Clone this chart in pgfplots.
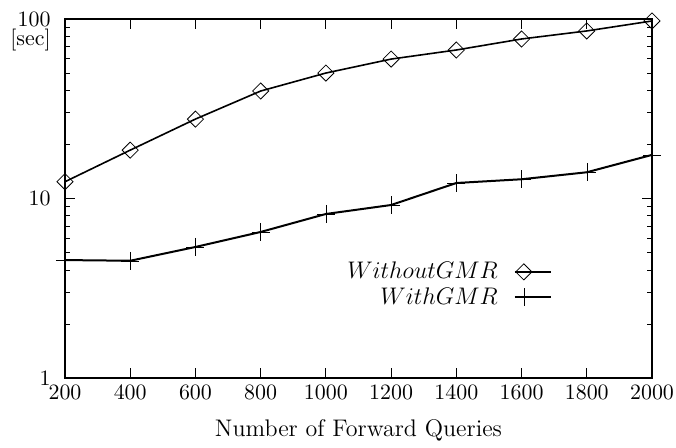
\documentclass[border=0pt]{standalone}
\usepackage{pgfplots}
\pgfplotsset{compat=1.18}
\begin{document}
\begin{tikzpicture}
\begin{axis}[
  scale only axis,
  clip mode=individual,
  width=293.5pt, height=179.5pt,
  ymode=log,
  xmin=200, xmax=2000, ymin=1, ymax=100,
  xtick={200,400,...,2000},
  ytick={1,10,100},
  yticklabels={1,10,100},
  tick label style={font=\fontsize{10.95}{13}\selectfont, inner sep=1pt},
  xticklabel style={/pgf/number format/1000 sep={}, anchor=center, yshift=-7pt},
  yticklabel style={anchor=east, xshift=-6pt},
  tick align=inside,
  tick pos=both,
  major tick length=5pt,
  minor tick length=2.5pt,
  tick style={black, thin},
  axis line style={black, line width=0.75pt},
  xlabel={Number of Forward Queries},
  xlabel style={at={(axis description cs:0.5,0)}, anchor=center, yshift=-26pt, font=\large},
  legend style={draw=none, fill=none, at={(rel axis cs:0.83,0.26)}, anchor=east, font=\large, row sep=-1pt, inner sep=0pt},
  legend cell align=right,
  legend plot pos=right,
  legend image code/.code={\path (0pt,0pt); \draw[#1] (6pt,0pt) -- (24pt,0pt); \draw[#1, mark repeat=2, mark phase=2] plot coordinates {(6pt,0pt) (10.5pt,0pt) (24pt,0pt)};},
]
\addplot[black, line width=0.8pt, mark=square, mark size=2.85pt, mark options={solid, thin, rotate=45}] coordinates {
(200,12.4) (400,18.6) (600,27.7) (800,39.7) (1000,50.0) (1200,59.8) (1400,67.2) (1600,77.4) (1800,85.8) (2000,97.5)};
\addlegendentry{$Without GMR$}
\addplot[black, line width=1pt, mark=+, mark size=4.5pt, mark options={solid, very thin}] coordinates {
(200,4.54) (400,4.5) (600,5.37) (800,6.51) (1000,8.2) (1200,9.2) (1400,12.2) (1600,12.8) (1800,14.0) (2000,17.5)};
\addlegendentry{$With GMR$}
\node[font=\fontsize{10.95}{13}\selectfont, anchor=east, inner sep=0pt] at ([xshift=-7pt, yshift=-10.5pt]rel axis cs:0,1) {[sec]};
\path ([xshift=-32.5pt, yshift=9.5pt]rel axis cs:0,1) ([xshift=12pt, yshift=-31.5pt]rel axis cs:1,0);
\end{axis}
\end{tikzpicture}
\end{document}
